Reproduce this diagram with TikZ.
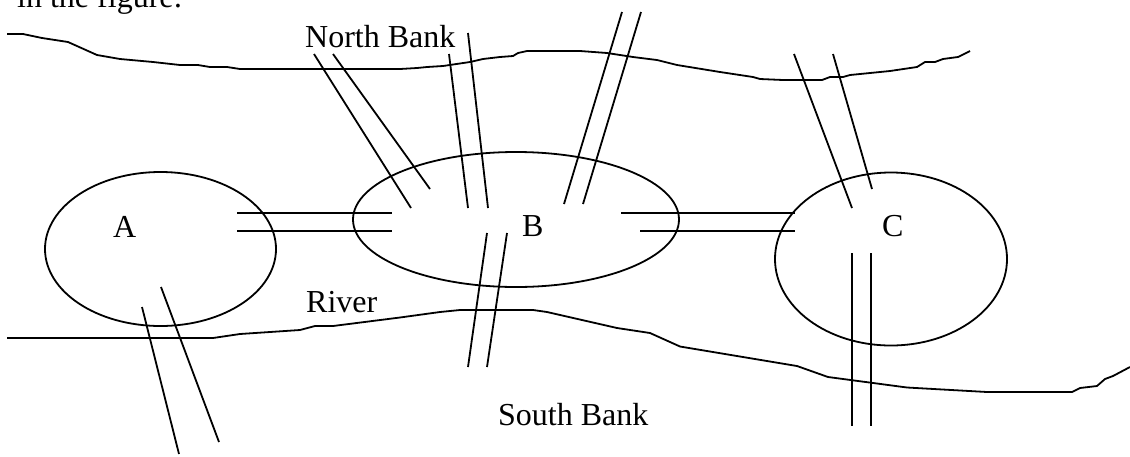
\documentclass[tikz,border=0pt]{standalone}
\usepackage{fontspec}
\setmainfont{Liberation Serif}
\begin{document}
\begin{tikzpicture}[x=1pt,y=-1pt,
  line/.style={line width=1.8pt,line join=round},
  lbl/.style={inner sep=0pt,anchor=base west,font=\fontsize{32}{36}\selectfont}]
\useasboundingbox (0,0) rectangle (1130,456);
\clip (0,0) rectangle (1130,456);
% text
\node[lbl] (fig) at (17,7.5) {in the figure:};
\node[lbl] (north) at (305,47) {North Bank};
\node[lbl] (river) at (306,312) {River};
\node[lbl] (south) at (498,425) {South Bank};
\node[lbl] (la) at (113,237) {A};
\node[lbl] (lb) at (522,236) {B};
\node[lbl] (lc) at (882,236.5) {C};
% islands
\coordinate (A) at (160.5,249);
\coordinate (B) at (516,219.5);
\coordinate (C) at (891,259);
\draw[line] (A) ellipse [x radius=115.5, y radius=77];
\draw[line] (B) ellipse [x radius=163, y radius=67.5];
\draw[line] (C) ellipse [x radius=116, y radius=86.5];
% north bank
\draw[line] (7,34) -- (23,34) -- (42,38) -- (68,42) -- (97,55) -- (120,59) -- (153,62) -- (180,65) -- (198,65) -- (210,67) -- (227,67) -- (240,69) -- (400,69) -- (417,68) -- (427,67) -- (443,66) -- (470,62) -- (483,59) -- (500,57) -- (513,56) -- (518,53) -- (527,51) -- (580,51) -- (607,53) -- (633,57) -- (657,60) -- (677,65) -- (720,72) -- (753,77) -- (760,79) -- (783,80) -- (822,80) -- (830,77) -- (843,77) -- (850,75) -- (890,71) -- (917,67) -- (925,62) -- (935,62) -- (943,59) -- (958,57) -- (970,51);
% south bank
\draw[line] (7,338) -- (213,338) -- (240,334) -- (300,330) -- (315,326) -- (333,326) -- (400,317.5) -- (440,312) -- (460,310) -- (533,310) -- (547,312) -- (617,328) -- (650,333) -- (680,346.5) -- (743,357) -- (797,366) -- (828,377) -- (907,387.5) -- (987,392) -- (1072,392) -- (1080,388) -- (1097,386) -- (1105,379) -- (1113,376) -- (1130,367);
% bridges A-B
\draw[line] (237,213) -- (392,213);
\draw[line] (237,231) -- (392,231);
% bridges B-C
\draw[line] (621,213) -- (795,213);
\draw[line] (640,231) -- (795,231);
% bridge A-south
\draw[line] (142,307) -- (179,454);
\draw[line] (161,287) -- (219,442);
% bridge B-south
\draw[line] (487,233) -- (468,367);
\draw[line] (507,233) -- (487,367);
% bridge B-north left
\draw[line] (314,54) -- (411,208);
\draw[line] (333,54) -- (430,189);
% bridge B-north middle
\draw[line] (449,54) -- (468,208);
\draw[line] (468,33) -- (488,208);
% bridge B-north right
\draw[line] (622,12) -- (564,204);
\draw[line] (641,12) -- (583,204);
% bridge C-north
\draw[line] (794,54) -- (852,208);
\draw[line] (833,54) -- (872,189);
% bridge C-south
\draw[line] (852,253) -- (852,426);
\draw[line] (871,253) -- (871,426);
\end{tikzpicture}
\end{document}
